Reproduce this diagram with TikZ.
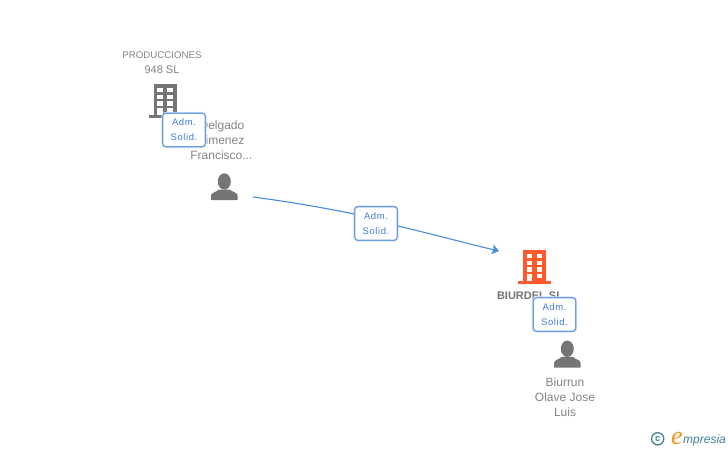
\documentclass[tikz,border=0pt]{standalone}
\usepackage{fontspec}
\setmainfont{Liberation Sans}
\newfontfamily\badgefont[LetterSpace=6]{Liberation Sans}
\newfontfamily\logoserif{Liberation Serif}
\usetikzlibrary{arrows.meta}
\definecolor{icongrey}{HTML}{757575}
\definecolor{textgrey}{HTML}{858585}
\definecolor{linkblue}{HTML}{4A8BE8}
\definecolor{badgeedge}{HTML}{6C9EE8}
\definecolor{badgehalo}{HTML}{D5E3F8}
\definecolor{badgetext}{HTML}{3F7BD8}
\definecolor{orangebld}{HTML}{FF5A2C}
\definecolor{logoteal}{HTML}{3F8296}
\definecolor{logoorange}{HTML}{F5911E}
\tikzset{
  x=1pt,y=-1pt,
  lbl/.style={inner sep=0pt,text=textgrey,font=\fontsize{12}{15}\selectfont,align=center},
  lblsmall/.style={inner sep=0pt,text=textgrey,font=\fontsize{9.7}{15}\selectfont,align=center},
  lblbold/.style={inner sep=0pt,text=icongrey,font=\fontsize{11}{15}\selectfont\bfseries},
  badge/.style={draw=badgeedge,line width=1.2pt,rounded corners=3pt,fill=white,text=badgetext,
    preaction={draw=badgehalo,line width=2.6pt},
    minimum width=42.5pt,minimum height=33.5pt,inner sep=0pt,align=center,
    font=\fontsize{9.5}{15}\selectfont\badgefont},
  slot/.style={inner sep=0pt,outer sep=0pt,minimum width=58pt,minimum height=27pt},
  link/.style={draw=linkblue,line width=1.1pt},
}
\newcommand{\bldicon}[3]{%
  % #1 left x of body, #2 top y, #3 colour
  \begin{scope}[shift={(#1,#2)}]
    \fill[#3] (0,0) rectangle (22.5,30.5);
    \fill[#3] (-5,30.5) rectangle (27.5,33.5);
    \foreach \wy in {4,10.7,17.3}{
      \fill[white] (3.4,\wy) rectangle (8.6,\wy+4.3);
      \fill[white] (13.4,\wy) rectangle (18.6,\wy+4.3);
    }
    \fill[white] (3.4,24) rectangle (8.6,30.5);
    \fill[white] (13.4,24) rectangle (18.6,28.3);
  \end{scope}}
\newcommand{\personicon}[2]{%
  % #1 left x, #2 top y
  \begin{scope}[shift={(#1,#2)}]
    \fill[icongrey] (13.3,8) ellipse (6.5 and 8.2);
    \fill[icongrey] (0,26.7) -- (0,22.3) .. controls (0,19) and (5,18.8) .. (8,16)
      -- (18.6,16) .. controls (21.6,18.8) and (26.7,19) .. (26.7,22.3) -- (26.7,26.7) -- cycle;
  \end{scope}}
\begin{document}
\begin{tikzpicture}
\useasboundingbox (0,0) rectangle (728,450);
\fill[white] (0,0) rectangle (728,450);

\bldicon{154}{84}{icongrey}
\bldicon{523.3}{250}{orangebld}
\personicon{211}{173.5}
\personicon{554}{340.8}

\node[lblsmall] (prod) at (162,62.5) {PRODUCCIONES\\\fontsize{11}{15}\selectfont 948 SL};
\node[lbl] (delg) at (222,140) {Delgado\\Jimenez\\\hspace{-1.2pt}Francisco...};
\node[lblbold] (biurdel) at (530,296) {BIURDEL SL};
\node[lbl] (biurrun) at (565,397) {Biurrun\\Olave Jose\\Luis};

\node[slot] (personA) at (224,197) {};
\node[inner sep=0pt,outer sep=0pt,minimum width=71pt,minimum height=32pt] (bldB) at (534.5,267) {};

\node[badge] (b1) at (184,130) {Adm.\\Solid.};
\node[badge] (b2) at (376,223.5) {Adm.\\Solid.};
\node[badge] (b3) at (554.5,314.5) {Adm.\\Solid.};

\draw[link] (personA.east) .. controls (287,201.5) and (320,207) .. ([yshift=9.5pt]b2.west);
\draw[link,-{Stealth[length=7pt,width=10pt,inset=1.5pt]}] ([yshift=-2.5pt]b2.east) .. controls (432,234) and (465,243) .. (bldB.north west);

% logo
\node[circle,draw=logoteal,line width=1.3pt,minimum size=12.2pt,inner sep=0pt,text=logoteal,
  font=\fontsize{9.5}{9.5}\selectfont\bfseries] (copy) at (657.7,438.8) {c};
\node[inner sep=0pt,anchor=base west,text=logoorange,font=\fontsize{26}{26}\selectfont\logoserif\itshape] (logoe) at (671,444) {e};
\node[inner sep=0pt,anchor=base west,text=logoteal,font=\fontsize{12}{12}\selectfont\itshape] (logot) at (683,443) {mpresia};
\end{tikzpicture}
\end{document}
